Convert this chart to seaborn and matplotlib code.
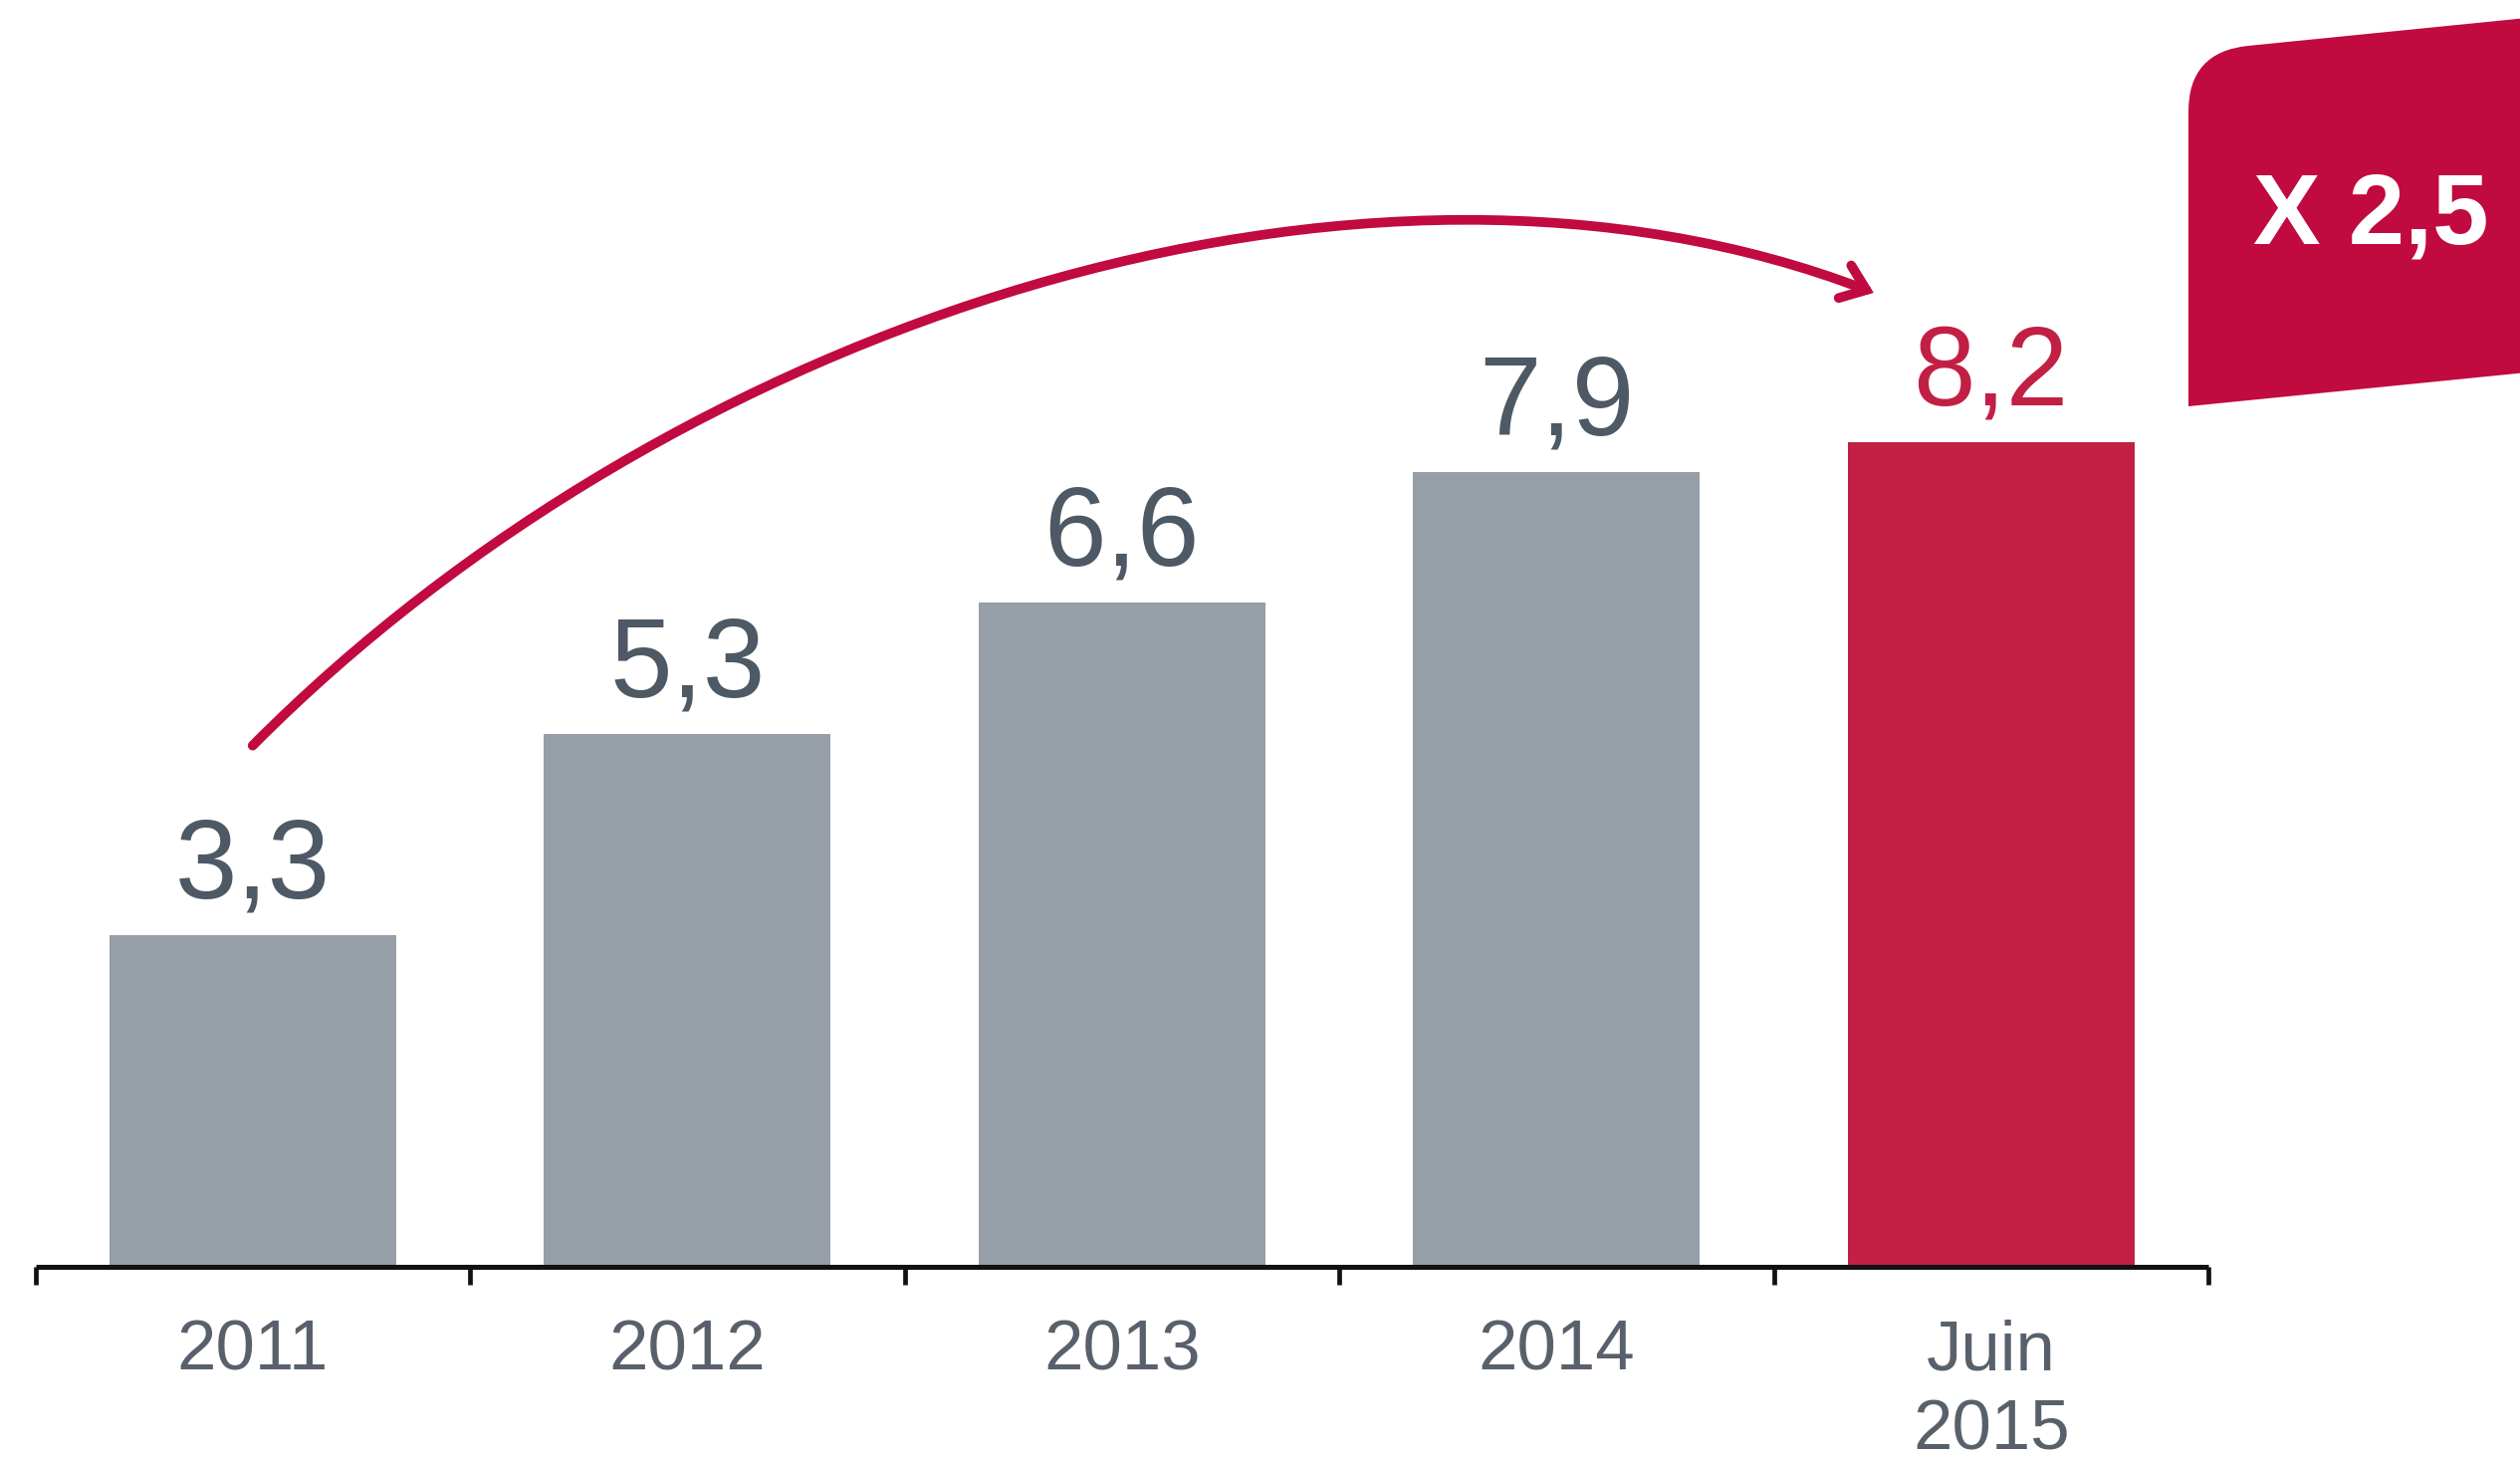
import numpy as np
import pandas as pd
import seaborn as sns
import matplotlib
matplotlib.use("Agg")
import matplotlib.pyplot as plt
from matplotlib.path import Path
from matplotlib.patches import FancyArrowPatch, PathPatch
from matplotlib.ticker import FixedLocator

# Data
categories = ["2011", "2012", "2013", "2014", "Juin\n2015"]
values = [3.3, 5.3, 6.6, 7.9, 8.2]
value_labels = ["3,3", "5,3", "6,6", "7,9", "8,2"]
growth_label = "X 2,5"

GREY = "#969EA8"
RED_BAR = "#C21F45"
RED = "#C10A40"
TEXT_GREY = "#4D5964"
TICK_GREY = "#58616B"

sns.set_theme(style="white")
plt.rcParams["font.family"] = ["Liberation Sans", "DejaVu Sans"]

W, H = 2531, 1467
fig = plt.figure(figsize=(W / 100, H / 100), dpi=100)
fig.patch.set_facecolor("white")

# axes: x spine from px 35 to 2218, baseline at px 1272 from top
ax = fig.add_axes([35.5 / W, 195 / H, (2218 - 35.5) / W, 1272 / H])
ax.set_facecolor("white")

df = pd.DataFrame({"cat": categories, "val": values})
colors = [GREY, GREY, GREY, GREY, RED_BAR]
sns.barplot(data=df, x="cat", y="val", hue="cat", palette=colors,
            width=0.66, saturation=1, legend=False, ax=ax, edgecolor="none")

ax.set_xlim(-0.5, 4.5)
ax.set_ylim(0, 12.59)
ax.set_xlabel("")
ax.set_ylabel("")
ax.set_yticks([])

for side in ["left", "right", "top"]:
    ax.spines[side].set_visible(False)
ax.spines["bottom"].set_linewidth(3.6)
ax.spines["bottom"].set_color("#111111")
ax.spines["bottom"].set_capstyle("butt")
ax.spines["bottom"].set_zorder(5)

# category labels centred, separator ticks between categories
ax.set_xticks(range(len(categories)))
ax.set_xticklabels(categories, fontsize=51, color=TICK_GREY, linespacing=1.27)
ax.tick_params(axis="x", which="major", length=0, pad=38)
ax.xaxis.set_minor_locator(FixedLocator(np.arange(-0.5, len(categories), 1.0)))
ax.tick_params(axis="x", which="minor", length=13, width=3.4,
               color="#111111", direction="out", bottom=True)

# value labels above bars
for i, (v, lab) in enumerate(zip(values, value_labels)):
    col = RED_BAR if i == len(values) - 1 else TEXT_GREY
    ax.annotate(lab, xy=(i, v), xytext=(0, 27), textcoords="offset points",
                ha="center", va="baseline", fontsize=81, color=col)

# growth arc from first bar to last bar (cubic Bezier)
p0 = (0.0, values[0] + 1.88)
p1 = (0.97, 9.40)
p2 = (2.56, 11.63)
p3 = (len(values) - 1 - 0.27, values[-1] + 1.48)
arc = Path([p0, p1, p2, p3],
           [Path.MOVETO, Path.CURVE4, Path.CURVE4, Path.CURVE4])
arrow = FancyArrowPatch(path=arc,
                        arrowstyle="->,head_length=0.55,head_width=0.42",
                        mutation_scale=30, lw=7, color=RED,
                        capstyle="round", joinstyle="miter", clip_on=False)
ax.add_patch(arrow)

# growth badge at the top right
def fig_pt(x, y):
    return (x / W, 1 - y / H)

r = 60
slope = 0.1
xl, xr = 2198, 2545
y_top_l, y_bot_l = 52, 408
verts = [
    fig_pt(xl, y_bot_l),
    fig_pt(xl, y_top_l + r),
    fig_pt(xl, y_top_l),
    fig_pt(xl + r, y_top_l - slope * r),
    fig_pt(xr, y_top_l - slope * (xr - xl)),
    fig_pt(xr, y_bot_l - slope * (xr - xl)),
    fig_pt(xl, y_bot_l),
]
codes = [Path.MOVETO, Path.LINETO, Path.CURVE3, Path.CURVE3,
         Path.LINETO, Path.LINETO, Path.CLOSEPOLY]
badge = PathPatch(Path(verts, codes), facecolor=RED, edgecolor="none",
                  transform=fig.transFigure)
fig.add_artist(badge)
fig.text(2381 / W, 1 - 218 / H, growth_label, ha="center", va="center",
         fontsize=73, fontweight="bold", color="white")

fig.savefig("out.png", dpi=100, facecolor="white")
